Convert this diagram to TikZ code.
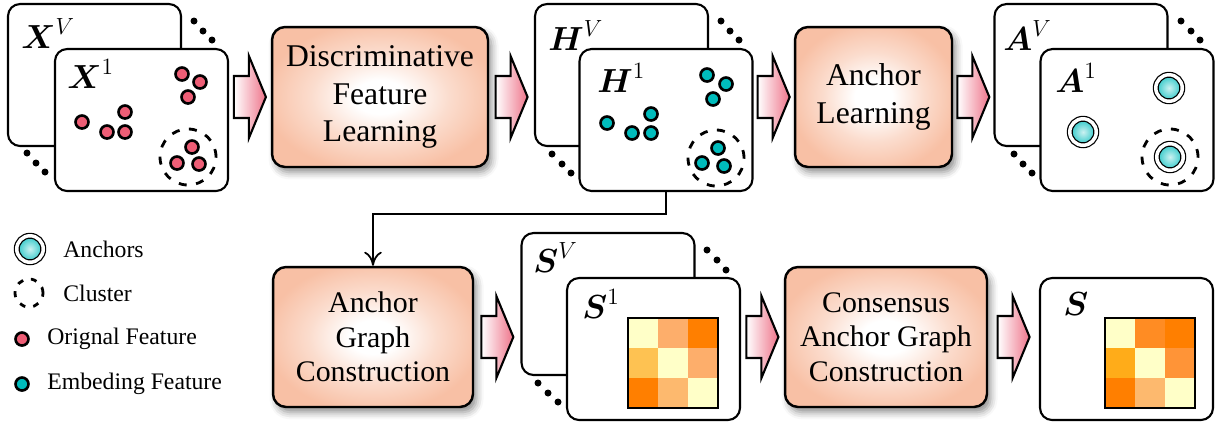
\RequirePackage{fix-cm}
\documentclass[tikz,border=0pt]{standalone}
\usepackage{amsmath}
\usepackage{fontspec}
\setmainfont{Liberation Serif}
\usetikzlibrary{calc,arrows.meta,shadows.blur}

\definecolor{peach}{RGB}{248,192,165}
\definecolor{arrowpink}{RGB}{238,116,138}
\definecolor{origpink}{RGB}{238,94,118}
\definecolor{embteal}{RGB}{0,188,188}
\definecolor{mlight}{RGB}{255,255,200}
\definecolor{mmid}{RGB}{253,174,107}
\definecolor{mdark}{RGB}{255,127,0}
\definecolor{mgold}{RGB}{254,194,82}
\definecolor{mtan}{RGB}{253,185,110}
\definecolor{morange}{RGB}{255,140,35}
\definecolor{mamber}{RGB}{255,172,25}
\definecolor{mcarrot}{RGB}{255,148,55}

\pgfdeclareradialshading{boxglow}{\pgfpoint{0bp}{0bp}}{%
  color(0bp)=(white); color(6bp)=(white); color(16bp)=(white!45!peach); color(27bp)=(peach); color(50bp)=(peach)}

\tikzset{
  card/.style={draw, line width=1.2pt, fill=white, rounded corners=0.24cm,
    minimum width=3.46cm, minimum height=2.84cm, inner sep=0},
  procbox/.style={draw, line width=1.4pt, rounded corners=0.26cm,
    shading=boxglow, align=center, minimum height=2.8cm,
    blur shadow={shadow xshift=2pt, shadow yshift=-3pt, shadow blur radius=4pt, shadow opacity=45},
    font=\fontsize{18}{21.3}\selectfont},
  lbl/.style={anchor=base west, inner sep=0, font=\fontsize{19}{22}\selectfont},
  pdot/.style={circle, draw, line width=1.5pt, fill=origpink, inner sep=0, minimum size=0.26cm},
  tdot/.style={circle, draw, line width=1.5pt, fill=embteal, inner sep=0, minimum size=0.26cm},
  edot/.style={circle, fill=black, inner sep=0, minimum size=0.14cm},
  clu/.style={circle, draw, line width=1.6pt, dash pattern=on 0.16cm off 0.19cm,
    inner sep=0, minimum size=1.12cm},
  anc/.style={circle, draw, line width=0.7pt, double=white, double distance=0.07cm,
    inner color=embteal!20, outer color=embteal!85, inner sep=0, minimum size=0.53cm},
  legtxt/.style={anchor=west, inner sep=0, font=\fontsize{13.5}{16}\selectfont},
  feedback/.style={line width=1pt, -{To[length=8pt,width=10pt]}},
  fatarrow/.pic={\draw[line width=1.2pt, left color=white, right color=arrowpink, line join=miter]
    (-16,-21) -- (-1,-21) -- (-1,-41) -- (16,0) -- (-1,41) -- (-1,21) -- (-16,21) -- cycle;}
}

\begin{document}
\begin{tikzpicture}[x=0.02cm, y=-0.02cm]
  \useasboundingbox (0,0) rectangle (1216,424);

  % cards of the views
  \node[card] (xback) at (94.5,75) {};
  \node[card] (xfront) at (141.5,120) {};
  \node[card] (hback) at (621.5,75) {};
  \node[card] (hfront) at (666,120) {};
  \node[card] (aback) at (1081,75) {};
  \node[card] (afront) at (1127,120) {};
  \node[card] (sback) at (608,304) {};
  \node[card] (sfront) at (653.5,349) {};
  \node[card] (scard) at (1126.5,349) {};

  \node[lbl] (xvl) at (21,48) {$\boldsymbol{X}^{V}$};
  \node[lbl] (x1l) at (67,88) {$\boldsymbol{X}^{1}$};
  \node[lbl] (hvl) at (548,50) {$\boldsymbol{H}^{V}$};
  \node[lbl] (h1l) at (597,92) {$\boldsymbol{H}^{1}$};
  \node[lbl] (avl) at (1003,50) {$\boldsymbol{A}^{V}$};
  \node[lbl] (a1l) at (1055,92) {$\boldsymbol{A}^{1}$};
  \node[lbl] (svl) at (533,272) {$\boldsymbol{S}^{V}$};
  \node[lbl] (s1l) at (582,318) {$\boldsymbol{S}^{1}$};
  \node[lbl] (sl) at (1063,315) {$\boldsymbol{S}$};

  % ellipsis dots
  \node[edot] (xe1) at (194,21) {};
  \node[edot] (xe2) at (203,31) {};
  \node[edot] (xe3) at (212,40) {};
  \node[edot] (xe4) at (27,153) {};
  \node[edot] (xe5) at (36,163) {};
  \node[edot] (xe6) at (45,172) {};
  \node[edot] (he1) at (721,21) {};
  \node[edot] (he2) at (730,31) {};
  \node[edot] (he3) at (739,40) {};
  \node[edot] (he4) at (552,154) {};
  \node[edot] (he5) at (562,164) {};
  \node[edot] (he6) at (571,173) {};
  \node[edot] (ae1) at (1181,21) {};
  \node[edot] (ae2) at (1191,31) {};
  \node[edot] (ae3) at (1200,40) {};
  \node[edot] (ae4) at (1014,154) {};
  \node[edot] (ae5) at (1023,164) {};
  \node[edot] (ae6) at (1032,173) {};
  \node[edot] (se1) at (707,250) {};
  \node[edot] (se2) at (717,260) {};
  \node[edot] (se3) at (726,270) {};
  \node[edot] (se4) at (538,383) {};
  \node[edot] (se5) at (548,393) {};
  \node[edot] (se6) at (558,402) {};

  % clusters
  \node[clu] (xclu) at (188,157) {};
  \node[clu] (hclu) at (716,158) {};
  \node[clu] (aclu) at (1170,157) {};

  % original features
  \node[pdot] (p1) at (82,122) {};
  \node[pdot] (p2) at (107,132) {};
  \node[pdot] (p3) at (125,132) {};
  \node[pdot] (p4) at (125,112) {};
  \node[pdot] (p5) at (182,74) {};
  \node[pdot] (p6) at (200,82) {};
  \node[pdot] (p7) at (188,97) {};
  \node[pdot] (p8) at (192,147) {};
  \node[pdot] (p9) at (177,163) {};
  \node[pdot] (p10) at (199,164) {};

  % embedding features
  \node[tdot] (t1) at (607,123) {};
  \node[tdot] (t2) at (632,133) {};
  \node[tdot] (t3) at (651,133) {};
  \node[tdot] (t4) at (651,114) {};
  \node[tdot] (t5) at (707,75) {};
  \node[tdot] (t6) at (726,84) {};
  \node[tdot] (t7) at (713,99) {};
  \node[tdot] (t8) at (718,148) {};
  \node[tdot] (t9) at (702,163) {};
  \node[tdot] (t10) at (724,166) {};

  % anchors
  \node[anc] (an1) at (1169,88) {};
  \node[anc] (an2) at (1083,132) {};
  \node[anc] (an3) at (1170,157) {};

  % anchor graphs
  \fill[mlight] (628,318) rectangle ++(30,30);
  \fill[mmid] (658,318) rectangle ++(30,30);
  \fill[mdark] (688,318) rectangle ++(30,30);
  \fill[mgold] (628,348) rectangle ++(30,30);
  \fill[mlight] (658,348) rectangle ++(30,30);
  \fill[mmid] (688,348) rectangle ++(30,30);
  \fill[mdark] (628,378) rectangle ++(30,30);
  \fill[mtan] (658,378) rectangle ++(30,30);
  \fill[mlight] (688,378) rectangle ++(30,30);
  \draw[line width=1.6pt] (628,318) rectangle (718,408);

  \fill[mlight] (1105,318) rectangle ++(30,30);
  \fill[morange] (1135,318) rectangle ++(30,30);
  \fill[mdark] (1165,318) rectangle ++(30,30);
  \fill[mamber] (1105,348) rectangle ++(30,30);
  \fill[mlight] (1135,348) rectangle ++(30,30);
  \fill[mcarrot] (1165,348) rectangle ++(30,30);
  \fill[mdark] (1105,378) rectangle ++(30,30);
  \fill[mtan] (1135,378) rectangle ++(30,30);
  \fill[mlight] (1165,378) rectangle ++(30,30);
  \draw[line width=1.6pt] (1105,318) rectangle (1195,408);

  % process boxes
  \node[procbox, minimum width=4.32cm] (dfl) at (380,97) {Discriminative\\Feature\\Learning};
  \node[procbox, minimum width=3.14cm] (al) at (873.5,97) {Anchor\\Learning};
  \node[procbox, minimum width=4.0cm, font=\fontsize{17}{19.6}\selectfont] (agc) at (373,337) {Anchor\\Graph\\Construction};
  \node[procbox, minimum width=4.04cm, font=\fontsize{17}{19.6}\selectfont] (cagc) at (886,337) {Consensus\\Anchor Graph\\Construction};

  % fat arrows
  \coordinate (m1) at ($(xfront.east)!0.5!(dfl.west)$);
  \coordinate (m2) at ($(dfl.east)!0.5!(hback.west)$);
  \coordinate (m3) at ($(hfront.east)!0.5!(al.west)$);
  \coordinate (m4) at ($(al.east)!0.5!(aback.west)$);
  \coordinate (m5) at ($(agc.east)!0.5!(sback.west)$);
  \coordinate (m6) at ($(sfront.east)!0.5!(cagc.west)$);
  \coordinate (m7) at ($(cagc.east)!0.5!(scard.west)$);
  \pic at (m1 |- dfl) {fatarrow};
  \pic at (m2 |- dfl) {fatarrow};
  \pic at (m3 |- al) {fatarrow};
  \pic at (m4 |- al) {fatarrow};
  \pic at (m5 |- agc) {fatarrow};
  \pic at (m6 |- cagc) {fatarrow};
  \pic at (m7 |- cagc) {fatarrow};

  \draw[feedback] (hfront.south) -- ++(0,22) -| (agc.north);

  % legend
  \node[anc] (lanc) at (30,249) {};
  \node[legtxt] (lanct) at (63,249) {Anchors};
  \node[clu, minimum size=0.56cm, dash pattern=on 0.12cm off 0.16cm] (lclu) at (29,293) {};
  \node[legtxt] (lclut) at (63,293) {Cluster};
  \node[pdot] (lp) at (22,339) {};
  \node[legtxt] (lpt) at (47,339) {Orignal Feature};
  \node[tdot] (lt) at (22,384) {};
  \node[legtxt] (ltt) at (47,384) {Embeding Feature};
\end{tikzpicture}
\end{document}
